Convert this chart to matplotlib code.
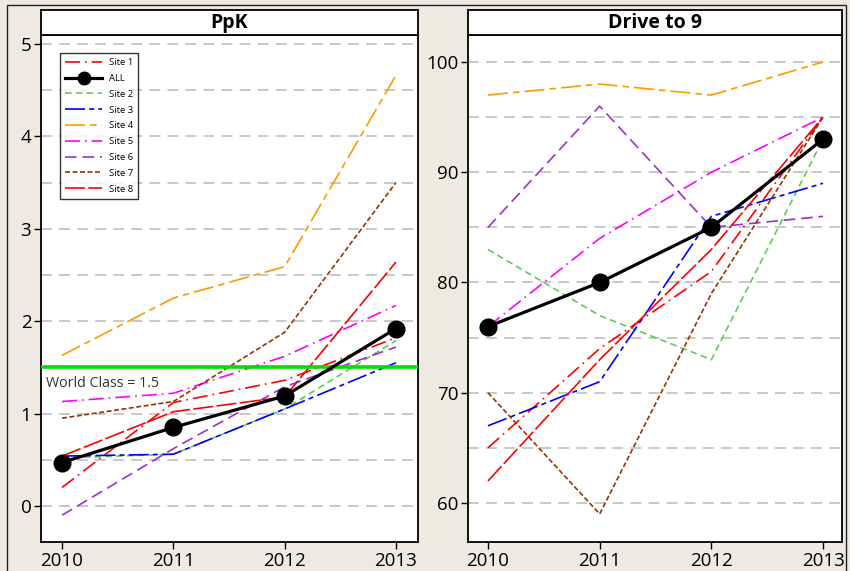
import matplotlib
matplotlib.use("Agg")
import matplotlib.pyplot as plt
from matplotlib.patches import Rectangle

plt.rcParams['font.family'] = ['Open Sans', 'DejaVu Sans']

years = [2010, 2011, 2012, 2013]
series_names = ["Site 1", "ALL", "Site 2", "Site 3", "Site 4", "Site 5", "Site 6", "Site 7", "Site 8"]

ppk_site1 = [0.20, 1.12, 1.36, 1.82]
ppk_all = [0.47, 0.85, 1.19, 1.92]
ppk_site2 = [0.52, 0.56, 1.05, 1.79]
ppk_site3 = [0.54, 0.56, 1.05, 1.55]
ppk_site4 = [1.63, 2.25, 2.59, 4.66]
ppk_site5 = [1.13, 1.22, 1.62, 2.17]
ppk_site6 = [-0.10, 0.62, 1.29, 1.72]
ppk_site7 = [0.95, 1.13, 1.88, 3.50]
ppk_site8 = [0.54, 1.02, 1.18, 2.64]

d9_site1 = [65, 74, 81, 95]
d9_all = [76, 80, 85, 93]
d9_site2 = [83, 77, 73, 93]
d9_site3 = [67, 71, 86, 89]
d9_site4 = [97, 98, 97, 100]
d9_site5 = [76, 84, 90, 95]
d9_site6 = [85, 96, 85, 86]
d9_site7 = [70, 59, 79, 95]
d9_site8 = [62, 73, 83, 95]

world_class = 1.5

ppk_data = [ppk_site1, ppk_all, ppk_site2, ppk_site3, ppk_site4, ppk_site5, ppk_site6, ppk_site7, ppk_site8]
d9_data = [d9_site1, d9_all, d9_site2, d9_site3, d9_site4, d9_site5, d9_site6, d9_site7, d9_site8]

styles = {
    "Site 1": dict(color="#FF0000", dashes=(9, 3, 1, 3)),
    "ALL": dict(color="black"),
    "Site 2": dict(color="#5CCB5C", dashes=(4, 2.5)),
    "Site 3": dict(color="#0000FF", dashes=(12, 2.5, 3, 2.5)),
    "Site 4": dict(color="#FF9900", dashes=(12, 3, 4, 3)),
    "Site 5": dict(color="#FF00FF", dashes=(9, 3, 1, 3)),
    "Site 6": dict(color="#9933CC", dashes=(7, 3.5)),
    "Site 7": dict(color="#993300", dashes=(3, 1.5)),
    "Site 8": dict(color="#FF0000", dashes=(12, 2)),
}

BG = "#EEEAE1"
W, H = 850, 571
fig = plt.figure(figsize=(8.5, 5.71), dpi=100, facecolor=BG)

# outer frame
fig.add_artist(Rectangle((7 / W, -0.01), (846 - 7) / W, 1 - 5 / H + 0.01,
                         transform=fig.transFigure, fill=False, edgecolor="#222222", lw=1.0))


def make_panel(x0, x1, title, data, xlim, ylim, yticks, grid):
    left = x0 / W
    width = (x1 - x0) / W
    bottom = 1 - 542 / H
    top = 1 - 35 / H
    ax = fig.add_axes([left, bottom, width, top - bottom])
    ax.set_facecolor("white")
    # title strip
    tax = fig.add_axes([left, top, width, (35 - 10) / H])
    tax.set_facecolor("white")
    tax.set_xticks([])
    tax.set_yticks([])
    for s in tax.spines.values():
        s.set_linewidth(1.3)
    tax.text(0.5, 0.47, title, ha="center", va="center", fontsize=14, fontweight="bold",
             transform=tax.transAxes)

    for g in grid:
        ax.axhline(g, color="#C4C4C4", lw=1.3, dashes=(6, 4), zorder=0)

    for name, vals in zip(series_names, data):
        st = styles[name]
        if name == "ALL":
            ax.plot(years, vals, color="black", lw=2.3, marker="o", markersize=12, zorder=5,
                    label=name)
        else:
            ax.plot(years, vals, color=st["color"], lw=1.2, dashes=st["dashes"], zorder=3,
                    label=name)

    ax.set_xlim(*xlim)
    ax.set_ylim(*ylim)
    ax.set_xticks(years)
    ax.set_xticklabels([str(y) for y in years])
    ax.set_yticks(yticks)
    ax.tick_params(axis="both", labelsize=13.5, length=5, width=1, color="black", pad=2)
    for s in ax.spines.values():
        s.set_linewidth(1.3)
    return ax


ax1 = make_panel(41, 418, "PpK", ppk_data, (2009.811, 2013.198), (-0.39, 5.097),
                 [0, 1, 2, 3, 4, 5], [v / 2 for v in range(0, 11)])
ax1.axhline(world_class, color="#00E000", lw=2.6, zorder=4)
ax1.text(2009.855, world_class - 0.09, "World Class = 1.5", fontsize=10.3, color="#333333",
         va="top", ha="left")

handles, labels = ax1.get_legend_handles_labels()
leg = ax1.legend(handles, labels, loc="upper left", bbox_to_anchor=(0.0504, 0.9645),
                 fontsize=6.8, frameon=True, fancybox=False, handlelength=3.9,
                 handletextpad=0.7, labelspacing=0.72, borderpad=0.55, borderaxespad=0)
leg.get_frame().set_edgecolor("black")
leg.get_frame().set_linewidth(1.0)
for h in leg.legend_handles:
    if h.get_label() == "ALL":
        h.set_markersize(9)

ax2 = make_panel(468, 842, "Drive to 9", d9_data, (2009.821, 2013.17), (56.46, 102.45),
                 [60, 70, 80, 90, 100], list(range(60, 101, 5)))

fig.savefig("out.png", dpi=100, facecolor=BG)
